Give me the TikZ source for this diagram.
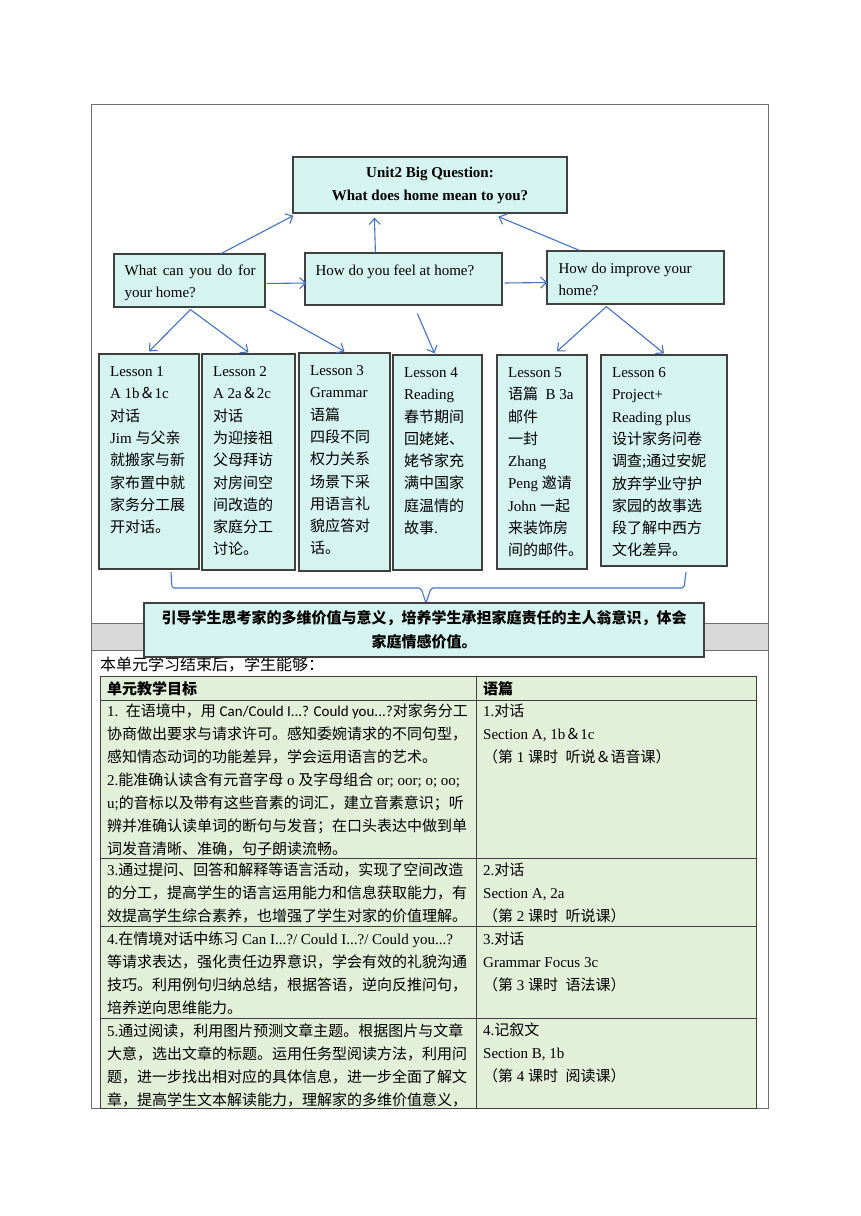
\documentclass[tikz,border=0pt]{standalone}
\usepackage{fontspec}
\setmainfont{Liberation Serif}
\newfontfamily\cjk{Noto Sans CJK SC}
\newfontfamily\calfont{Carlito}
\usetikzlibrary{arrows.meta,positioning,calc}
\definecolor{cBox}{HTML}{D5F3EF}
\definecolor{cLine}{HTML}{404040}
\definecolor{cArr}{HTML}{4472C4}
\definecolor{cTab}{HTML}{E2EFD9}
\definecolor{cBand}{HTML}{D9D9D9}
\definecolor{cFrame}{HTML}{6E6E6E}

% Chinese characters switch to the CJK family by themselves
\newXeTeXintercharclass\hanclass
\newcount\hancnt
\hancnt="3000 \loop\XeTeXcharclass\hancnt=\hanclass\ifnum\hancnt<"303F \advance\hancnt by 1 \repeat
\hancnt="4E00 \loop\XeTeXcharclass\hancnt=\hanclass\ifnum\hancnt<"9FFF \advance\hancnt by 1 \repeat
\hancnt="FF00 \loop\XeTeXcharclass\hancnt=\hanclass\ifnum\hancnt<"FFEF \advance\hancnt by 1 \repeat
\XeTeXinterchartoks 0 \hanclass={\cjk}
\XeTeXinterchartoks 4095 \hanclass={\cjk}
\XeTeXinterchartoks \hanclass 0={\rmfamily}
\XeTeXinterchartoks \hanclass 4095={\rmfamily}
\XeTeXinterchartokenstate=1

\begin{document}
\begin{tikzpicture}[x=1pt,y=-1pt,
  box/.style={draw=cLine,fill=cBox,line width=1.2pt,inner sep=0pt},
  txt/.style={anchor=north west,inner sep=0pt,align=left,font=\fontsize{15}{22.3}\selectfont},
  cell/.style={anchor=north west,inner sep=0pt,align=left,font=\fontsize{15}{23}\selectfont},
  arr/.style={cArr,line width=1.1pt,-{Straight Barb[length=6pt,width=11pt]}},
  tabline/.style={cLine,line width=0.8pt}]
  \useasboundingbox (0,0) rectangle (860,1216);
  \draw[cFrame,line width=0.9pt] (91,104) rectangle (768,1108);
  \draw[cFrame,fill=cBand,line width=0.9pt] (91,623) rectangle (768,650);

  % big question and the three sub questions
  \node[box,minimum width=274,minimum height=56,align=center,
    font=\bfseries\fontsize{15}{23}\selectfont] (Q) at (430,185)
    {Unit2 Big Question:\\What does home mean to you?};
  \node[box,minimum width=151,minimum height=53] (A) at (189.5,280.5) {};
  \node[txt,text width=131,align=justify] (At) at ([xshift=11,yshift=-11]A.north west)
    {What can you do for your home?};
  \node[box,minimum width=197,minimum height=52] (B) at (403.5,279) {};
  \node[txt] (Bt) at ([xshift=11,yshift=-12]B.north west) {How do you feel at home?};
  \node[box,minimum width=177,minimum height=53] (C) at (635.5,277.5) {};
  \node[txt] (Ct) at ([xshift=12,yshift=-12]C.north west) {How do improve your\\home?};

  % lessons
  \foreach \i/\xa/\xb/\ya/\yb/\txt in {
    1/99/199/354/569/{Lesson 1\\A 1b＆1c\\对话\\Jim 与父亲\\就搬家与新\\家布置中就\\家务分工展\\开对话。},
    2/202/295/354/570/{Lesson 2\\A 2a＆2c\\对话\\为迎接祖\\父母拜访\\对房间空\\间改造的\\家庭分工\\讨论。},
    3/299/390/353/571/{Lesson 3\\Grammar\\语篇\\四段不同\\权力关系\\场景下采\\用语言礼\\貌应答对\\话。},
    4/393/482/355/570/{Lesson 4\\Reading\\春节期间\\回姥姥、\\姥爷家充\\满中国家\\庭温情的\\故事.},
    5/497/587/355/569/{Lesson 5\\语篇~~B 3a\\邮件\\一封\\Zhang\\Peng 邀请\\John 一起\\来装饰房\\间的邮件。},
    6/601/727/355/566/{Lesson 6\\Project+\\Reading plus\\设计家务问卷\\调查;通过安妮\\放弃学业守护\\家园的故事选\\段了解中西方\\文化差异。}}{
    \node[box,minimum width={\xb-\xa},minimum height={\yb-\ya}] (L\i) at ({(\xa+\xb)/2},{(\ya+\yb)/2}) {};
    \node[txt] (T\i) at ([xshift=11.5,yshift=-13]L\i.north west) {\txt};
  }

  % connectors
  \draw[arr] ([xshift=108]A.north west) -- ([xshift=1,yshift=-2]Q.south west);
  \draw[arr] ([xshift=71]B.north west) -- ([xshift=82,yshift=-4]Q.south west);
  \draw[arr] ([xshift=33]C.north west) -- ([xshift=206,yshift=-3]Q.south west);
  \draw[arr] ([xshift=1,yshift=-3]A.east) -- ([xshift=2,yshift=-4]B.west);
  \draw[arr] ([xshift=2,yshift=-4]B.east) -- ([xshift=1,yshift=-5]C.west);
  \draw[arr] ([xshift=77,yshift=-2]A.south west) -- ([yshift=2]L1.north);
  \draw[arr] ([xshift=77,yshift=-2]A.south west) -- ([yshift=1]L2.north);
  \draw[arr] ([xshift=4,yshift=-2]A.south east) -- ([yshift=1]L3.north);
  \draw[arr] ([xshift=113,yshift=-8]B.south west) -- ([xshift=-3,yshift=1]L4.north);
  \draw[arr] ([xshift=60,yshift=-2]C.south west) -- ([xshift=15,yshift=3]L5.north);
  \draw[arr] ([xshift=60,yshift=-2]C.south west) -- ([yshift=1]L6.north);

  % intro line, table
  \node[anchor=west,inner sep=0pt,font=\fontsize{16}{16}\selectfont] (intro) at (100,665)
    {本单元学习结束后，学生能够：};
  \draw[tabline,fill=cTab] (100,676) rectangle (756,1108);
  \foreach \y in {700,858,926,1018}{\draw[tabline] (100,\y) -- (756,\y);}
  \draw[tabline] (476,676) -- (476,1108);
  \node[cell] (h1) at (107,681) {\bfseries 单元教学目标};
  \node[cell] (h2) at (483,681) {\bfseries 语篇};
  \node[cell] (g1) at (107,704) {1.\ \ 在语境中，用 {\calfont Can/Could I...? Could you...?}对家务分工\\
    协商做出要求与请求许可。感知委婉请求的不同句型，\\
    感知情态动词的功能差异，学会运用语言的艺术。\\
    2.能准确认读含有元音字母 o 及字母组合 or; oor; o; oo;\\
    u;的音标以及带有这些音素的词汇，建立音素意识；听\\
    辨并准确认读单词的断句与发音；在口头表达中做到单\\
    词发音清晰、准确，句子朗读流畅。};
  \node[cell] (t1) at (483,704) {1.对话\\Section A, 1b＆1c\\（第 1 课时~~听说＆语音课）};
  \node[cell] (g2) at (107,863) {3.通过提问、回答和解释等语言活动，实现了空间改造\\
    的分工，提高学生的语言运用能力和信息获取能力，有\\
    效提高学生综合素养，也增强了学生对家的价值理解。};
  \node[cell] (t2) at (483,863) {2.对话\\Section A, 2a\\（第 2 课时~~听说课）};
  \node[cell] (g3) at (107,932) {4.在情境对话中练习 Can I...?/ Could I...?/ Could you...?\\
    等请求表达，强化责任边界意识，学会有效的礼貌沟通\\
    技巧。利用例句归纳总结，根据答语，逆向反推问句，\\
    培养逆向思维能力。};
  \node[cell] (t3) at (483,932) {3.对话\\Grammar Focus 3c\\（第 3 课时~~语法课）};
  \node[cell] (g4) at (107,1023) {5.通过阅读，利用图片预测文章主题。根据图片与文章\\
    大意，选出文章的标题。运用任务型阅读方法，利用问\\
    题，进一步找出相对应的具体信息，进一步全面了解文\\
    章，提高学生文本解读能力，理解家的多维价值意义，};
  \node[cell] (t4) at (483,1023) {4.记叙文\\Section B, 1b\\（第 4 课时~~阅读课）};

  % brace and summary
  \draw[cArr,line width=1.1pt,rounded corners=2pt] (171,572) -- (172,588) -- (421,588)
    -- (426,603) -- (431,588) -- (684,588) -- (686,572);
  \node[box,minimum width=560,minimum height=54,align=center,
    font=\bfseries\fontsize{15}{24}\selectfont] (S) at (424,630)
    {引导学生思考家的多维价值与意义，培养学生承担家庭责任的主人翁意识，体会\\家庭情感价值。};
\end{tikzpicture}
\end{document}
